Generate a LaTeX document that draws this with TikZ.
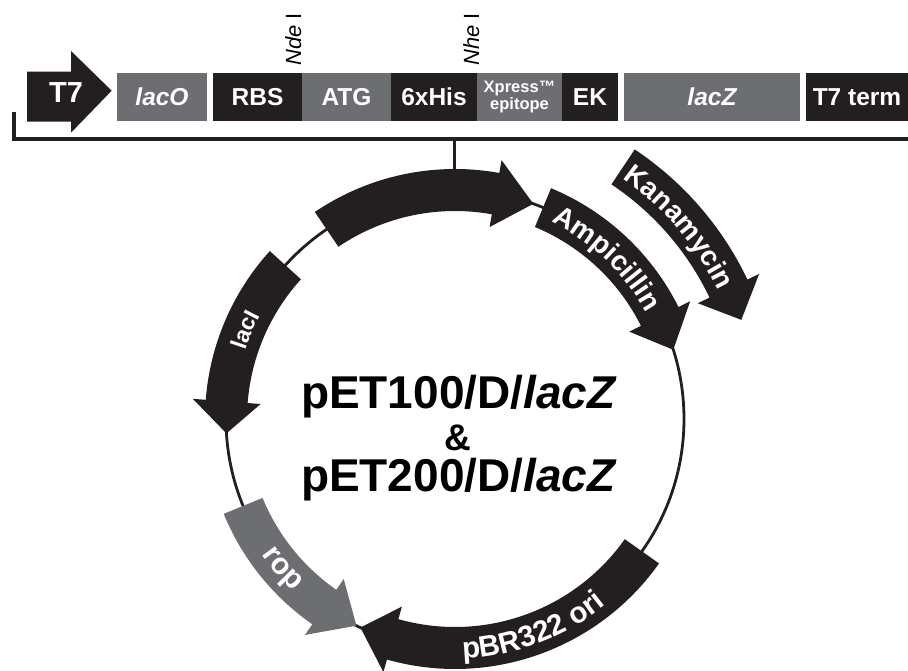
\documentclass[tikz,border=0pt]{standalone}
\usepackage{fontspec}
\setmainfont{Liberation Sans}
\usetikzlibrary{positioning,decorations.text}

\definecolor{mapblack}{HTML}{231F20}
\definecolor{mapgray}{HTML}{6D6E71}

\newcommand\boxfont{\fontsize{24.5}{26}\selectfont\bfseries}
\newcommand\bandfont{\fontsize{28}{28}\selectfont\bfseries}
\newcommand\sitefont{\fontsize{22}{22}\selectfont}
\newcommand\namefont{\fontsize{46}{48}\selectfont\bfseries}

\newcommand\featarrow[5][mapblack]{%
  \fill[#1] (#3:#2+21) arc[start angle=#3, end angle=#4, radius=#2+21]
    -- (#4:#2+34) -- (#5:#2) -- (#4:#2-34) -- (#4:#2-21)
    arc[start angle=#4, end angle=#3, radius=#2-21] -- cycle;}
\newcommand\bandlabel[5]{%
  \path[decorate, decoration={text along path, text align=center,
    text color=white, text={|#1|#5}}]
    (#3:#2) arc[start angle=#3, end angle=#4, radius=#2];}

\begin{document}
\begin{tikzpicture}[x=1pt, y=1pt,
  elem/.style={minimum height=48pt, inner sep=0pt, outer sep=0pt, text=white, font=\boxfont},
  darkel/.style={elem, fill=mapblack},
  grayel/.style={elem, fill=mapgray},
  site/.style={rotate=90, anchor=base west, inner sep=0pt, font=\sitefont},
  mapline/.style={line width=2.8pt, draw=mapblack}]
\useasboundingbox (0,0) rectangle (908,670);

\fill[mapblack] (27,548.3) -- (27,598.3) -- (71,598.3) -- (71,619) -- (111.7,579.3)
  -- (71,537.3) -- (71,548.3) -- cycle;
\node[text=white, font=\fontsize{29}{29}\selectfont\bfseries] (t7) at (66,577.5) {T7};

\node[grayel, minimum width=90pt] (laco) at (162,573) {\itshape lacO};
\node[darkel, minimum width=89pt, right=6pt of laco] (rbs) {RBS};
\node[grayel, minimum width=89pt, right=0pt of rbs] (atg) {ATG};
\node[darkel, minimum width=86pt, right=0pt of atg] (his) {6xHis};
\node[grayel, minimum width=85pt, right=0pt of his, align=center,
  font=\fontsize{16.5}{14.5}\selectfont\bfseries] (xpress) {Xpress™\\epitope};
\node[darkel, minimum width=56pt, right=0pt of xpress] (ek) {EK};
\node[grayel, minimum width=176pt, right=6pt of ek] (lacz) {\itshape lacZ};
\node[darkel, minimum width=102pt, right=6pt of lacz] (t7term) {T7 term};

\node[site] (ndei) at (301,604) {\itshape Nde\/\upshape\ I};
\node[site] (nhei) at (479,604) {\itshape Nhe\/\upshape\ I};

\coordinate (brtop) at (14,558);
\coordinate (brend) at (908,531);
\coordinate (stem) at (454.3,531);
\coordinate (maptop) at (454.3,480);
\draw[line width=3.5pt, mapblack] (brtop) -- (14,531);
\draw[line width=4.5pt, mapblack] (12.25,531) -- (brend);
\draw[line width=2.8pt, mapblack] (stem) -- (maptop);

\draw[mapline] (455,251) circle[radius=229];

\begin{scope}[shift={(455,251)}]
\featarrow{229}{124.1}{79.8}{70}
\featarrow{229}{67.4}{26.6}{17.6}
\featarrow{303}{56.3}{25.5}{19.1}
\featarrow{229}{137.8}{175.6}{183.6}
\featarrow[mapgray]{229}{202.3}{235.2}{244.5}
\featarrow{229}{324.7}{254.2}{245.6}

\bandlabel{\bandfont}{219}{67}{26}{Ampicillin}
\bandlabel{\bandfont}{293}{57}{24}{Kanamycin}
\bandlabel{\fontsize{23}{23}\selectfont\bfseries}{220.5}{176}{138}{lacI}
\bandlabel{\fontsize{30}{30}\selectfont\bfseries}{236}{206}{236}{rop}
\bandlabel{\fontsize{29.5}{29.5}\selectfont\bfseries}{239.5}{256}{325}{pBR322 ori}
\end{scope}

\node[font=\namefont, anchor=base] (name1) at (459,261.7) {pET100/D/\textit{lacZ}};
\node[font=\fontsize{37}{37}\selectfont\bfseries, anchor=base] (amp) at (458,219.3) {\&};
\node[font=\namefont, anchor=base] (name2) at (459,178.3) {pET200/D/\textit{lacZ}};
\end{tikzpicture}
\end{document}
